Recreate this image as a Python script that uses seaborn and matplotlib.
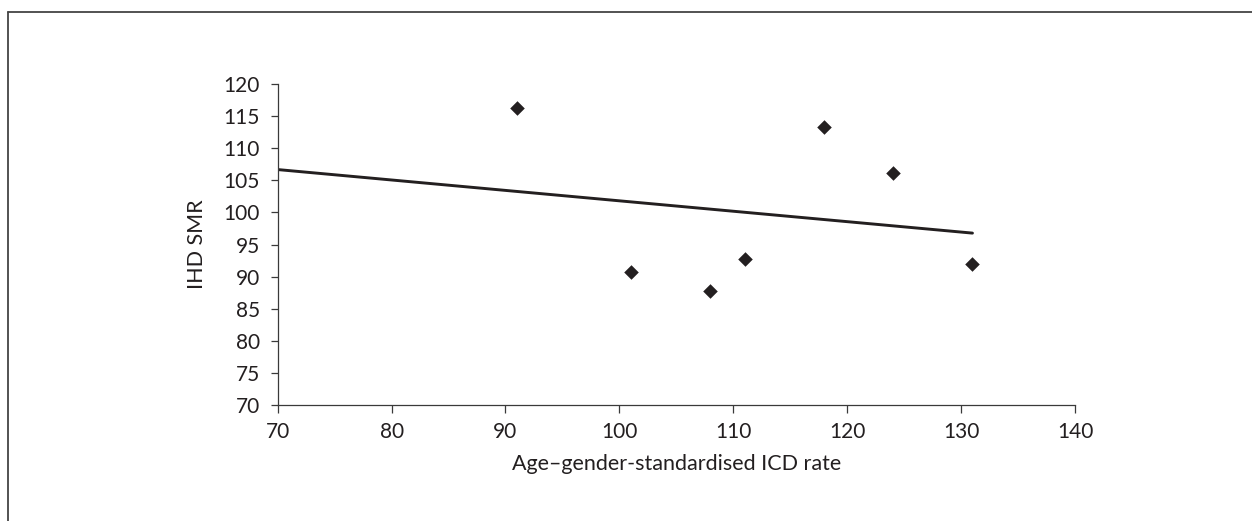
import numpy as np
import pandas as pd
import matplotlib
matplotlib.use("Agg")
import matplotlib.pyplot as plt
from matplotlib.lines import Line2D
import seaborn as sns

# Age–gender-standardised ICD rate vs IHD standardised mortality ratio
icd_rate = [91, 101, 108, 111, 118, 124, 131]
ihd_smr = [116.3, 90.7, 87.8, 92.7, 113.3, 106.2, 92.0]

x_ticks = [70, 80, 90, 100, 110, 120, 130, 140]
y_ticks = [70, 75, 80, 85, 90, 95, 100, 105, 110, 115, 120]

sns.set_theme(style="white")
plt.rcParams["font.family"] = ["Lato", "DejaVu Sans"]

INK = "#231f20"
AXIS = "#3a3a3a"

df = pd.DataFrame({"rate": icd_rate, "smr": ihd_smr})

# least-squares trend line, drawn from the left edge of the axis to the last point
slope, intercept = np.polyfit(df["rate"], df["smr"], 1)
fit = pd.DataFrame({"rate": [x_ticks[0], max(icd_rate)]})
fit["smr"] = intercept + slope * fit["rate"]

fig = plt.figure(figsize=(12.52, 5.21), dpi=100)
ax = fig.add_axes([0.2218, 0.2226, 0.6368, 0.6162])

sns.lineplot(data=fit, x="rate", y="smr", ax=ax, color=INK, linewidth=2.1)
sns.scatterplot(data=df, x="rate", y="smr", ax=ax, marker="D", s=55,
                color=INK, edgecolor=INK, linewidth=0, zorder=3)

ax.set_xlim(x_ticks[0], x_ticks[-1])
ax.set_ylim(y_ticks[0], y_ticks[-1])
ax.set_xticks(x_ticks)
ax.set_yticks(y_ticks)
ax.margins(0)

for side in ("top", "right"):
    ax.spines[side].set_visible(False)
for side in ("left", "bottom"):
    ax.spines[side].set_color(AXIS)
    ax.spines[side].set_linewidth(0.9)

ax.tick_params(axis="y", direction="out", length=5, width=0.9, color=AXIS,
               pad=8, labelsize=15, labelcolor=INK, left=True)
ax.tick_params(axis="x", direction="out", length=6, width=0.9, color=AXIS,
               pad=6, labelsize=15, labelcolor=INK, bottom=True)

ax.set_xlabel("Age–gender-standardised ICD rate", fontsize=15.5, color=INK, labelpad=9)
ax.set_ylabel("IHD SMR", fontsize=15.5, color=INK, labelpad=12)

# open frame around the figure: top and left edges
fy = 1 - 12 / 521
fx = 8 / 1252
fig.add_artist(Line2D([fx, 1.0], [fy, fy], transform=fig.transFigure,
                      color="#444444", linewidth=1.3))
fig.add_artist(Line2D([fx, fx], [fy, 0.0], transform=fig.transFigure,
                      color="#444444", linewidth=1.3))

fig.savefig("out.png", dpi=100, facecolor="white")
